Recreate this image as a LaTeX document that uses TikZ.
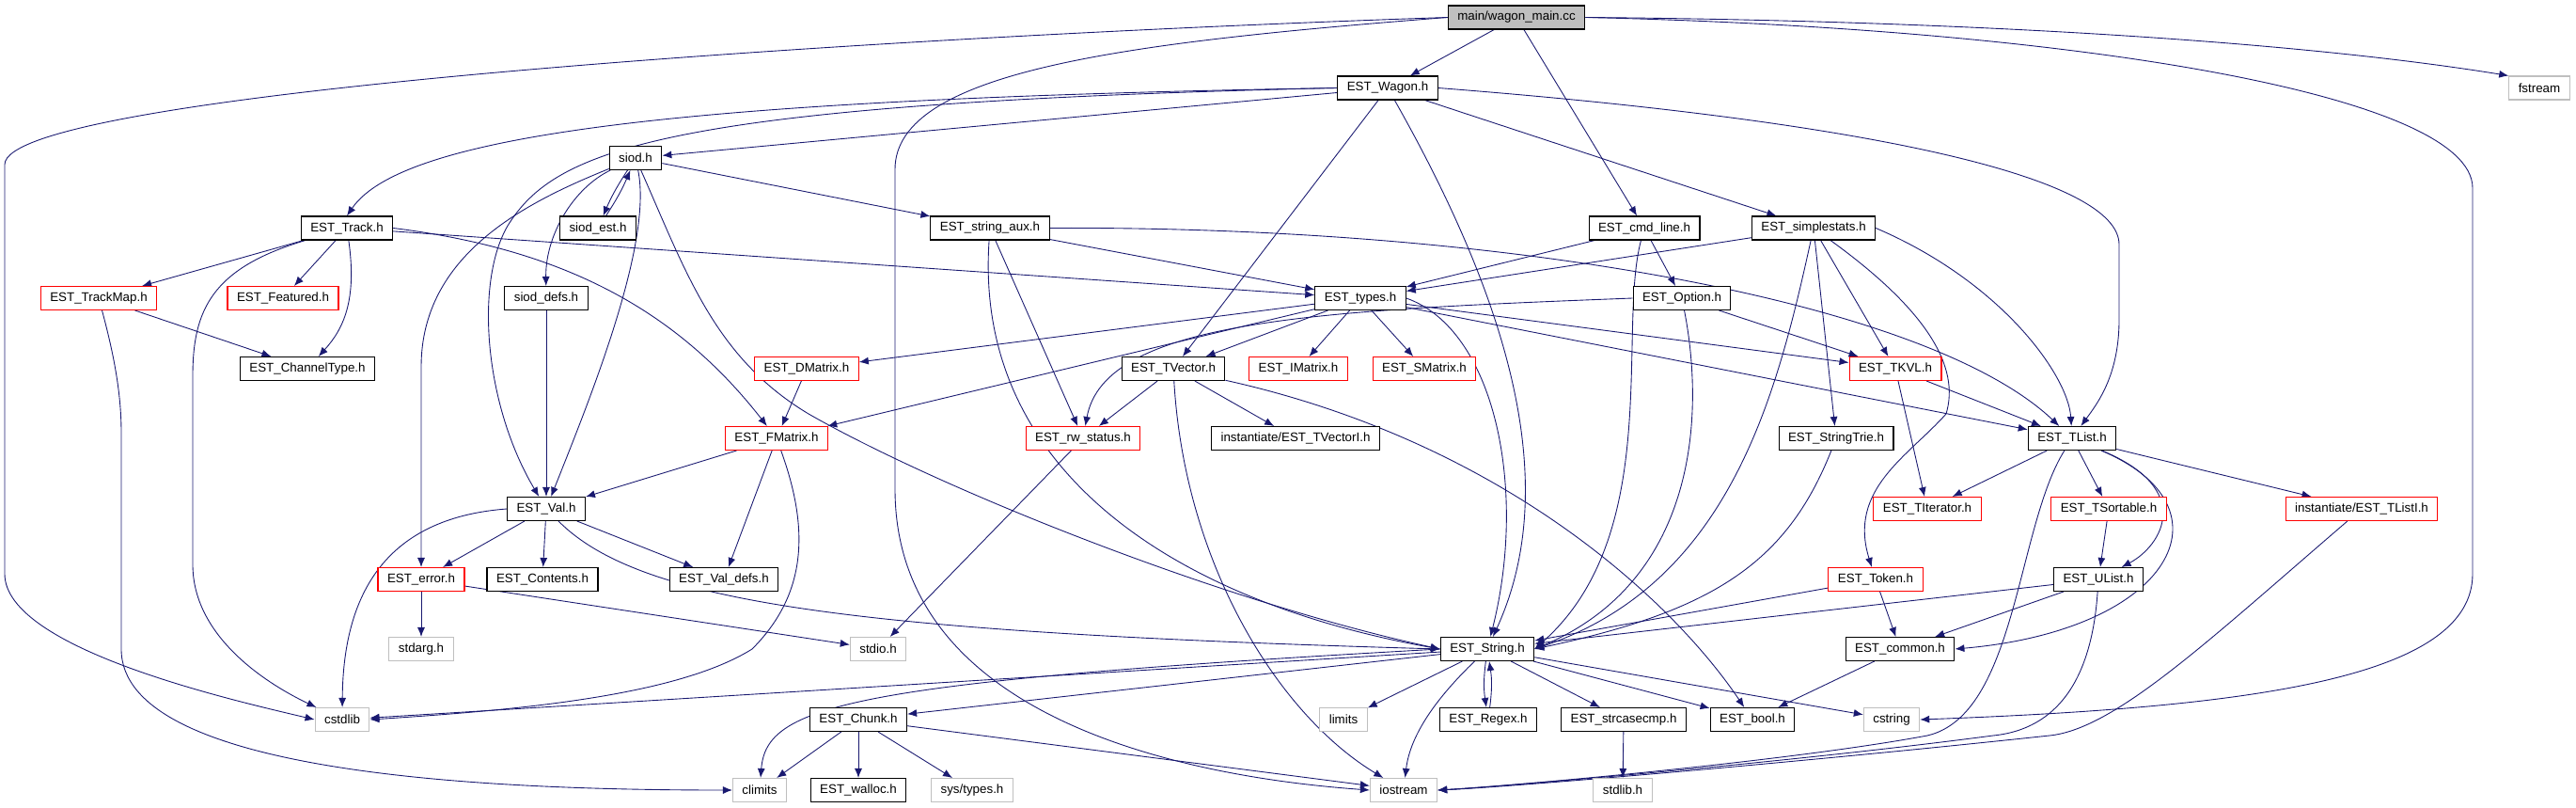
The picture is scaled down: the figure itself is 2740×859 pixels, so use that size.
\documentclass[tikz,border=0pt]{standalone}
\usepackage{fontspec}
\setmainfont{Liberation Sans}
\usetikzlibrary{arrows.meta,backgrounds}
\definecolor{ink}{HTML}{000000}
\definecolor{edgeblue}{HTML}{191970}
\definecolor{trunc}{HTML}{FF0000}
\definecolor{sysgray}{HTML}{BFBFBF}
\tikzset{
  every node/.style={font=\fontsize{7.6}{9}\selectfont},
  box/.style={draw=ink, line width=0.6pt, minimum height=5mm, inner xsep=2mm,
              inner ysep=0pt, fill=white, text=ink},
  truncbox/.style={box, draw=trunc},
  sysbox/.style={box, draw=sysgray},
  srcbox/.style={box, fill=sysgray},
  arr/.style={-{Latex[length=2mm, width=1.6mm]}, line width=0.5pt, draw=edgeblue},
}

\begin{document}
\begin{tikzpicture}[x=0.2mm, y=-0.2mm]
\useasboundingbox (0,0) rectangle (2740,859);

% rows top to bottom
\node[srcbox] (main) at (1613,18.5) {main/wagon\_main.cc};
\node[box] (wagon) at (1476,93.5) {EST\_Wagon.h};
\node[sysbox] (fstream) at (2701,93.5) {fstream};
\node[box] (siod) at (676,168) {siod.h};
\node[box] (track) at (369,242.5) {EST\_Track.h};
\node[box] (siodest) at (636,242.5) {siod\_est.h};
\node[box] (straux) at (1053,242.5) {EST\_string\_aux.h};
\node[box] (cmdline) at (1749,242.5) {EST\_cmd\_line.h};
\node[box] (simplestats) at (1929,242.5) {EST\_simplestats.h};
\node[truncbox] (trackmap) at (105,317) {EST\_TrackMap.h};
\node[truncbox] (featured) at (301,317) {EST\_Featured.h};
\node[box] (sioddefs) at (581,317) {siod\_defs.h};
\node[box] (types) at (1447,317) {EST\_types.h};
\node[box] (option) at (1789,317) {EST\_Option.h};
\node[box] (channel) at (327,392) {EST\_ChannelType.h};
\node[truncbox] (dmatrix) at (858,392) {EST\_DMatrix.h};
\node[box] (tvector) at (1248,392) {EST\_TVector.h};
\node[truncbox] (imatrix) at (1381,392) {EST\_IMatrix.h};
\node[truncbox] (smatrix) at (1515,392) {EST\_SMatrix.h};
\node[truncbox] (tkvl) at (2016,392) {EST\_TKVL.h};
\node[truncbox] (fmatrix) at (826,466) {EST\_FMatrix.h};
\node[truncbox] (rwstatus) at (1152,466) {EST\_rw\_status.h};
\node[box] (tvectori) at (1378,466) {instantiate/EST\_TVectorI.h};
\node[box] (stringtrie) at (1953,466) {EST\_StringTrie.h};
\node[box] (tlist) at (2204,466) {EST\_TList.h};
\node[box] (val) at (581,541) {EST\_Val.h};
\node[truncbox] (titerator) at (2050,541) {EST\_TIterator.h};
\node[truncbox] (tsortable) at (2243,541) {EST\_TSortable.h};
\node[truncbox] (tlisti) at (2512,541) {instantiate/EST\_TListI.h};
\node[truncbox] (error) at (448,616) {EST\_error.h};
\node[box] (contents) at (577,616) {EST\_Contents.h};
\node[box] (valdefs) at (770,616) {EST\_Val\_defs.h};
\node[truncbox] (token) at (1995,616) {EST\_Token.h};
\node[box] (ulist) at (2232,616) {EST\_UList.h};
\node[sysbox] (stdarg) at (448,690) {stdarg.h};
\node[sysbox] (stdio) at (934,690) {stdio.h};
\node[box] (string) at (1582,690) {EST\_String.h};
\node[box] (common) at (2021,690) {EST\_common.h};
\node[sysbox] (cstdlib) at (364,765) {cstdlib};
\node[box] (chunk) at (913,765) {EST\_Chunk.h};
\node[sysbox] (limits) at (1429,765) {limits};
\node[box] (regex) at (1583,765) {EST\_Regex.h};
\node[box] (strcasecmp) at (1727,765) {EST\_strcasecmp.h};
\node[box] (bool) at (1864,765) {EST\_bool.h};
\node[sysbox] (cstring) at (2012,765) {cstring};
\node[sysbox] (climits) at (808,840) {climits};
\node[box] (walloc) at (913,840) {EST\_walloc.h};
\node[sysbox] (systypes) at (1034,840) {sys/types.h};
\node[sysbox] (iostream) at (1493,840) {iostream};
\node[sysbox] (stdlib) at (1726,840) {stdlib.h};

\begin{scope}[on background layer]
% main
\draw[arr] (main) -- (wagon);
\draw[arr] (main) -- (cmdline);
\draw[arr] (main.east) .. controls (2100,22) and (2450,45) .. (fstream.north west);
\draw[arr] (main.east) .. controls (2200,30) and (2630,100) .. (2630,200) -- (2630,610) .. controls (2630,720) and (2400,752) .. (cstring.east);
\draw[arr] (main.west) .. controls (900,40) and (5,100) .. (5,175) -- (5,610) .. controls (5,690) and (250,745) .. (cstdlib.west);
\draw[arr] (main.west) .. controls (1200,45) and (952,75) .. (952,180) -- (952,520) .. controls (952,760) and (1250,825) .. (iostream.west);
% wagon
\draw[arr] (wagon.west) .. controls (750,105) and (430,140) .. (track.north);
\draw[arr] (wagon) -- (siod);
\draw[arr] (wagon.west) .. controls (700,110) and (590,160) .. (540,240) .. controls (505,300) and (515,430) .. (val);
\draw[arr] (wagon) -- (tvector);
\draw[arr] (wagon) .. controls (1610,330) and (1660,520) .. (string);
\draw[arr] (wagon) -- (simplestats);
\draw[arr] (wagon.east) .. controls (2000,130) and (2254,190) .. (2254,260) -- (2254,340) .. controls (2254,400) and (2230,430) .. (tlist);
% siod
\draw[arr] (siod) to[bend right=5] (siodest);
\draw[arr] (siodest) to[bend right=5] (siod);
\draw[arr] (siod) .. controls (610,200) and (580,250) .. (sioddefs);
\draw[arr] (siod) .. controls (560,215) and (448,270) .. (448,390) -- (error);
\draw[arr] (siod) .. controls (695,260) and (625,430) .. (val);
\draw[arr] (siod) .. controls (730,290) and (760,380) .. (860,440) .. controls (1000,520) and (1300,640) .. (string.west);
\draw[arr] (siod) -- (straux);
\draw[arr] (sioddefs) -- (val);
% track
\draw[arr] (track) -- (trackmap);
\draw[arr] (track) -- (featured);
\draw[arr] (track) .. controls (380,320) and (365,350) .. (channel);
\draw[arr] (track) .. controls (225,285) and (205,330) .. (205,400) -- (205,600) .. controls (205,680) and (290,730) .. (cstdlib);
\draw[arr] (track.east) .. controls (600,265) and (720,330) .. (fmatrix);
\draw[arr] (track) -- (types);
\draw[arr] (trackmap) -- (channel);
\draw[arr] (trackmap) .. controls (122,380) and (129,420) .. (129,460) -- (129,690) .. controls (129,820) and (500,840) .. (climits);
% string_aux, cmd_line, simplestats
\draw[arr] (straux) -- (types);
\draw[arr] (straux) -- (rwstatus);
\draw[arr] (straux) .. controls (1035,500) and (1250,640) .. (string.west);
\draw[arr] (straux.east) .. controls (1600,240) and (2050,320) .. (tlist);
\draw[arr] (cmdline) -- (types);
\draw[arr] (cmdline) -- (option);
\draw[arr] (cmdline) .. controls (1720,350) and (1770,570) .. (string.east);
\draw[arr] (simplestats) -- (types);
\draw[arr] (simplestats) .. controls (1890,420) and (1840,620) .. (string.east);
\draw[arr] (simplestats) -- (stringtrie);
\draw[arr] (simplestats) -- (tkvl);
\draw[arr] (simplestats) .. controls (2050,330) and (2085,390) .. (2070,440) .. controls (2030,485) and (1965,520) .. (token);
\draw[arr] (simplestats.east) .. controls (2130,300) and (2200,400) .. (tlist);
% types, option
\draw[arr] (types) -- (dmatrix);
\draw[arr] (types) -- (fmatrix);
\draw[arr] (types) -- (tvector);
\draw[arr] (types) -- (imatrix);
\draw[arr] (types) -- (smatrix);
\draw[arr] (types.east) .. controls (1590,350) and (1625,520) .. (string);
\draw[arr] (types) -- (tkvl);
\draw[arr] (types) -- (tlist);
\draw[arr] (option.west) .. controls (1400,330) and (1175,340) .. (rwstatus);
\draw[arr] (option) -- (tkvl);
\draw[arr] (option) .. controls (1815,450) and (1800,620) .. (string.east);
\draw[arr] (dmatrix) -- (fmatrix);
% vectors, matrices
\draw[arr] (tvector) -- (rwstatus);
\draw[arr] (tvector) -- (tvectori);
\draw[arr] (tvector) .. controls (1260,600) and (1360,760) .. (iostream);
\draw[arr] (tvector) .. controls (1600,470) and (1780,640) .. (bool);
\draw[arr] (fmatrix) -- (val);
\draw[arr] (fmatrix) -- (valdefs);
\draw[arr] (fmatrix) .. controls (860,560) and (860,630) .. (800,690) .. controls (720,740) and (550,755) .. (cstdlib.east);
\draw[arr] (rwstatus) -- (stdio);
% lists
\draw[arr] (tlist) -- (titerator);
\draw[arr] (tlist) -- (tsortable);
\draw[arr] (tlist) .. controls (2335,520) and (2300,580) .. (ulist);
\draw[arr] (tlist) -- (tlisti);
\draw[arr] (tlist) .. controls (2380,540) and (2310,670) .. (common.east);
\draw[arr] (tlist) .. controls (2145,560) and (2145,760) .. (2050,782) .. controls (1900,810) and (1600,836) .. (iostream.east);
\draw[arr] (tkvl) -- (titerator);
\draw[arr] (tkvl) -- (tlist);
\draw[arr] (stringtrie) .. controls (1900,600) and (1820,650) .. (string.east);
\draw[arr] (tsortable) -- (ulist);
\draw[arr] (tlisti) .. controls (2350,680) and (2250,775) .. (2180,782) .. controls (1900,812) and (1600,837) .. (iostream.east);
\draw[arr] (token) -- (string);
\draw[arr] (token) -- (common);
\draw[arr] (ulist) -- (string);
\draw[arr] (ulist) -- (common);
\draw[arr] (ulist) .. controls (2225,720) and (2190,775) .. (2120,782) .. controls (1900,811) and (1600,836) .. (iostream.east);
\draw[arr] (common) -- (bool);
% val
\draw[arr] (val.west) .. controls (420,550) and (365,620) .. (cstdlib);
\draw[arr] (val) -- (error);
\draw[arr] (val) -- (contents);
\draw[arr] (val) -- (valdefs);
\draw[arr] (val) .. controls (680,640) and (900,672) .. (string.west);
\draw[arr] (error) -- (stdarg);
\draw[arr] (error) -- (stdio);
% string
\draw[arr] (string) -- (cstdlib);
\draw[arr] (string.west) .. controls (900,725) and (815,750) .. (climits);
\draw[arr] (string) -- (chunk);
\draw[arr] (string) -- (limits);
\draw[arr] (string) to[bend right=8] (regex);
\draw[arr] (regex) to[bend right=8] (string);
\draw[arr] (string) -- (strcasecmp);
\draw[arr] (string) -- (bool);
\draw[arr] (string) -- (cstring);
\draw[arr] (string) .. controls (1530,740) and (1500,780) .. (iostream);
\draw[arr] (strcasecmp) -- (stdlib);
\draw[arr] (chunk) -- (climits);
\draw[arr] (chunk) -- (walloc);
\draw[arr] (chunk) -- (systypes);
\draw[arr] (chunk) -- (iostream);
\end{scope}

\end{tikzpicture}
\end{document}
